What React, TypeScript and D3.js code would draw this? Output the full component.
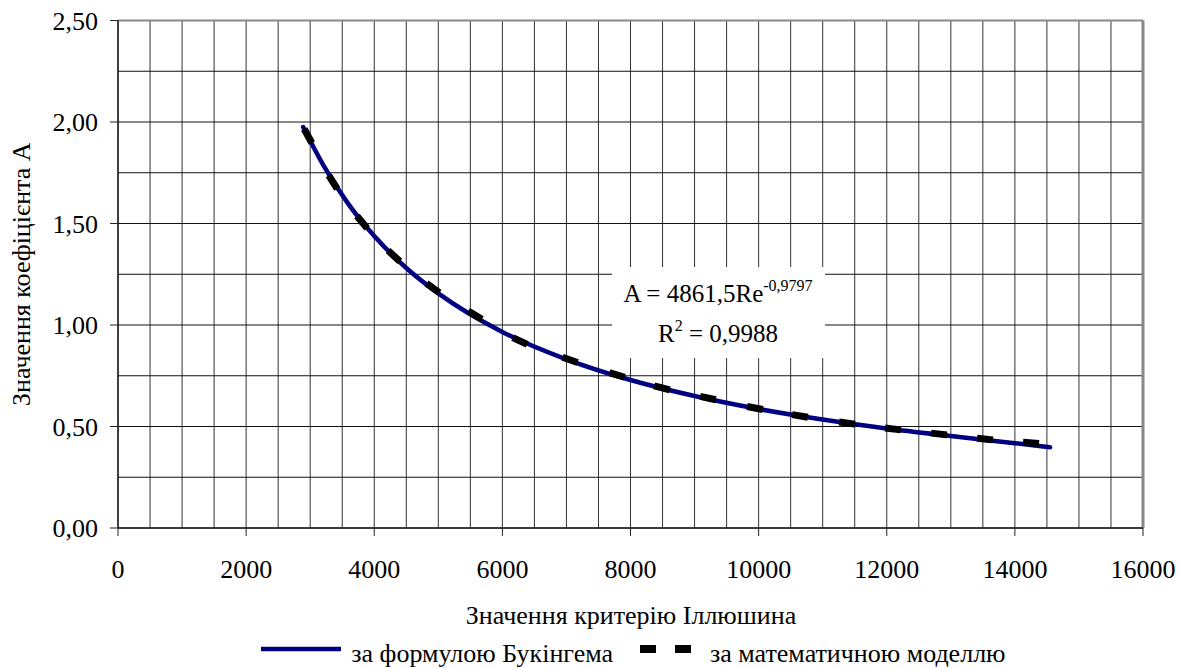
import * as d3 from 'd3'

// trend line "за формулою Букінгема"
const trendX = [2890, 3200, 3600, 4000, 4500, 5000, 6000, 7000, 8000, 9000, 10000, 11000, 12000, 13000, 14000, 14550]
const trendY = [1.975, 1.79, 1.594, 1.438, 1.281, 1.156, 0.966, 0.831, 0.729, 0.65, 0.586, 0.534, 0.49, 0.453, 0.418, 0.398]

// "за математичною моделлю" points
const modelX = [2966, 3356, 3809, 4308, 4917, 5573, 6275, 7056, 7789, 8492, 9210, 9943, 10646, 11380, 12097, 12816, 13534, 14252]
const modelY = [1.931, 1.704, 1.507, 1.34, 1.182, 1.049, 0.921, 0.828, 0.754, 0.69, 0.64, 0.591, 0.552, 0.517, 0.488, 0.463, 0.438, 0.419]

const xTicks = [0, 2000, 4000, 6000, 8000, 10000, 12000, 14000, 16000]
const yTicks = [0, 0.5, 1, 1.5, 2, 2.5]

const xTitle = 'Значення критерію Іллюшина'
const yTitle = 'Значення коефіцієнта А'
const seriesNames = ['за формулою Букінгема', 'за математичною моделлю']

const font = '"Liberation Serif", "Times New Roman", serif'

export default function App() {
  const left = 118, right = 1143, top = 20.5, bottom = 528

  const x = d3.scaleLinear().domain([0, 16000]).range([left, right])
  const y = d3.scaleLinear().domain([0, 2.5]).range([bottom, top])

  const xGrid = d3.range(0, 16001, 500)
  const yGrid = d3.range(0, 2.51, 0.25)

  const fmtY = (v: number) => d3.format('.2f')(v).replace('.', ',')

  const trend = trendX.map((v, i) => [v, trendY[i]] as [number, number])
  const line = d3.line<[number, number]>()
    .x(d => x(d[0]))
    .y(d => y(d[1]))
    .curve(d3.curveMonotoneX)

  // short black dashes along the curve, one per model point
  const pts = modelX.map((v, i) => [x(v), y(modelY[i])])
  const dashes = pts.map((p, i) => {
    const a = pts[Math.max(0, i - 1)]
    const b = pts[Math.min(pts.length - 1, i + 1)]
    const dx = b[0] - a[0], dy = b[1] - a[1]
    const len = Math.hypot(dx, dy) || 1
    const h = 8
    return { x1: p[0] - dx / len * h, y1: p[1] - dy / len * h, x2: p[0] + dx / len * h, y2: p[1] + dy / len * h }
  })

  return (
    <svg width={1180} height={668} style={{ position: 'absolute', left: 0, top: 0, background: '#fff' }}
      fontFamily={font}>
      {/* grid */}
      {xGrid.map(v => (
        <line key={'gx' + v} x1={x(v)} x2={x(v)} y1={top} y2={bottom} stroke="#333" strokeWidth={1} />
      ))}
      {yGrid.map(v => (
        <line key={'gy' + v} x1={left} x2={right} y1={y(v)} y2={y(v)} stroke="#111" strokeWidth={1} />
      ))}
      {/* frame */}
      <line x1={left} x2={right} y1={top} y2={top} stroke="#888" strokeWidth={2} />
      <line x1={right} x2={right} y1={top} y2={bottom} stroke="#888" strokeWidth={3} />
      <line x1={left} x2={left} y1={top} y2={bottom} stroke="#222" strokeWidth={1.5} />
      <line x1={left} x2={right} y1={bottom} y2={bottom} stroke="#222" strokeWidth={1.5} />

      {/* ticks */}
      {yTicks.map(v => (
        <g key={'yt' + v}>
          <line x1={left - 8} x2={left} y1={y(v)} y2={y(v)} stroke="#222" />
          <text x={98} y={y(v)} dy="0.35em" textAnchor="end" fontSize={26}>{fmtY(v)}</text>
        </g>
      ))}
      {xTicks.map(v => (
        <g key={'xt' + v}>
          <line x1={x(v)} x2={x(v)} y1={bottom} y2={bottom + 8} stroke="#222" />
          <text x={x(v)} y={578} textAnchor="middle" fontSize={26}>{v}</text>
        </g>
      ))}

      {/* trend label box */}
      <rect x={612} y={267} width={213} height={91} fill="#fff" />
      <text x={718} y={302} textAnchor="middle" fontSize={25}>
        A = 4861,5Re<tspan fontSize={16} dy={-11}>-0,9797</tspan>
      </text>
      <text x={718} y={342} textAnchor="middle" fontSize={25}>
        R<tspan fontSize={16} dy={-11}>2</tspan><tspan dy={11}> = 0,9988</tspan>
      </text>

      {/* series */}
      <path d={line(trend) ?? ''} fill="none" stroke="#000080" strokeWidth={4.5} strokeLinecap="round" />
      {dashes.map((d, i) => (
        <line key={'d' + i} {...d} stroke="#000" strokeWidth={7} />
      ))}

      {/* axis titles */}
      <text x={631} y={624} textAnchor="middle" fontSize={26}>{xTitle}</text>
      <text transform={`translate(30, ${(top + bottom) / 2}) rotate(-90)`} textAnchor="middle" fontSize={26}>{yTitle}</text>

      {/* legend */}
      <line x1={261} x2={341} y1={649} y2={649} stroke="#000080" strokeWidth={4.5} />
      <text x={613} y={662} textAnchor="end" fontSize={26}>{seriesNames[0]}</text>
      <rect x={640} y={645} width={16} height={8} fill="#000" />
      <rect x={675} y={645} width={16} height={8} fill="#000" />
      <text x={710} y={662} fontSize={26}>{seriesNames[1]}</text>
    </svg>
  )
}
